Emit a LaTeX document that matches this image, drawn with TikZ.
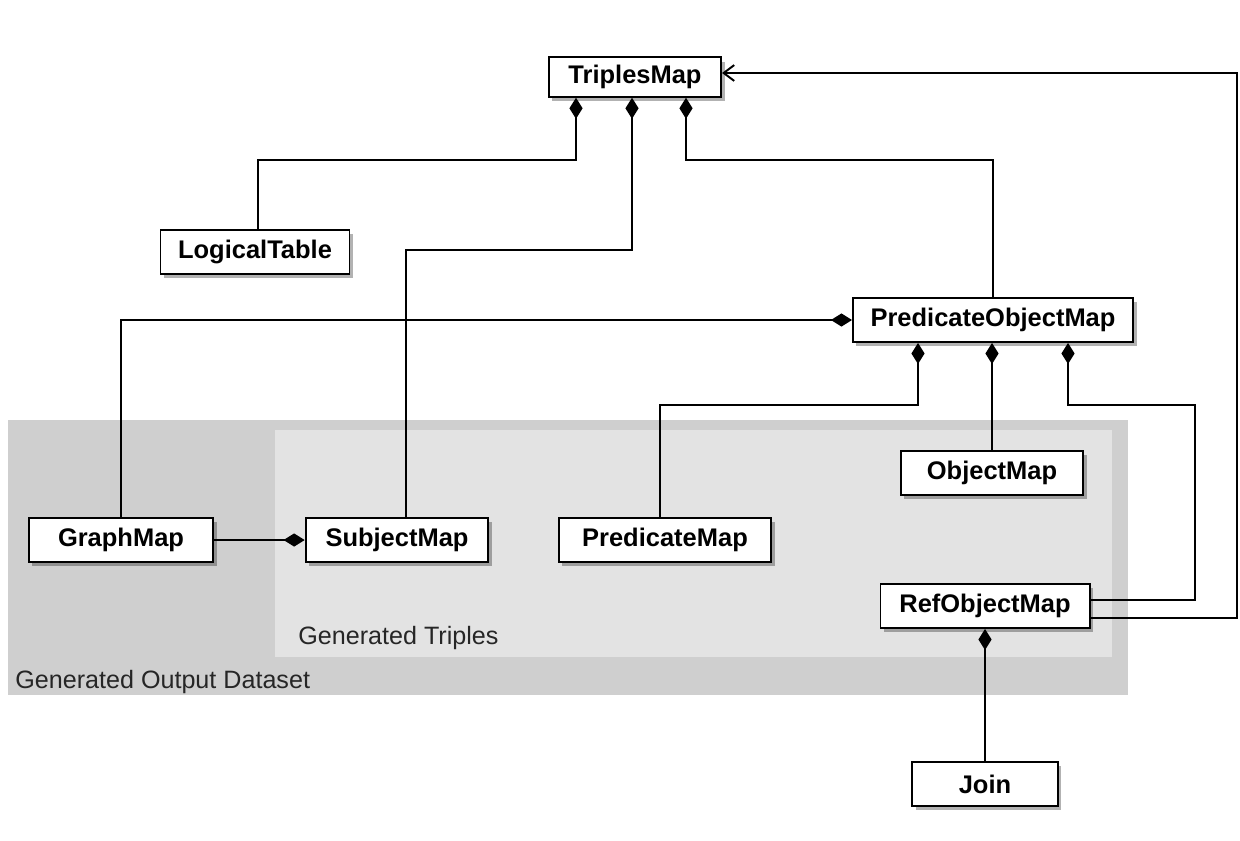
\documentclass[tikz,border=0pt]{standalone}
\usepackage{fontspec}
\setmainfont{Liberation Sans}
\usepackage{tikz}
\usetikzlibrary{calc,arrows.meta,shadows}

\begin{document}
\begin{tikzpicture}[x=0.02cm, y=-0.02cm,
    cls/.style={draw=black,
                line width=1.1pt,
                fill=white,
                font=\fontsize{14.5}{17}\selectfont\bfseries,
                minimum width=104pt,
                minimum height=25pt,
                inner xsep=10pt,
                drop shadow={shadow xshift=2pt, shadow yshift=-2.5pt, opacity=0.3, fill=black}
                },
    comp/.style={line width=1.1pt, arrows={Diamond[length=12pt,width=7.5pt]-}},
    refarrow/.style={line width=1.1pt, arrows={-Straight Barb[length=6pt,width=9pt]}},
    region/.style={font=\fontsize{14.3}{17}\selectfont, text=black!85, anchor=base west, inner sep=0pt}
    ]
  \useasboundingbox (0,0) rectangle (1240,840);

  % 背景の領域
  \fill[black!19] (8,420) rectangle (1128,695);
  \fill[black!11] (275,430) rectangle (1112,657);
  \node[region] (triples) at (298,644) {Generated Triples};
  \node[region] (dataset) at (15,688) {Generated Output Dataset};

  % クラスの箱
  \node[cls, minimum width=98pt, minimum height=22.5pt] (tm) at (635,77) {TriplesMap};
  \node[cls] (lt) at (255,252) {LogicalTable};
  \node[cls] (pom) at (993,320) {PredicateObjectMap};
  \node[cls] (om) at (992,473) {ObjectMap};
  \node[cls, minimum width=105pt] (gm) at (121,540) {GraphMap};
  \node[cls] (sm) at (397,540) {SubjectMap};
  \node[cls, minimum width=121pt] (pm) at (665,540) {PredicateMap};
  \node[cls, minimum width=119pt] (rom) at (985,606) {RefObjectMap};
  \node[cls, minimum width=83pt] (join) at (985,784) {Join};

  % TriplesMap からの合成
  \draw[comp] (tm.south -| 576,0) -- (576,160) -| (lt.north -| 258,0);
  \draw[comp] (tm.south -| 632,0) -- (632,250) -| (sm.north -| 406,0);
  \draw[comp] (tm.south -| 686,0) -- (686,160) -| (pom.north);

  % RefObjectMap から TriplesMap への参照
  \draw[refarrow] (rom.east |- 0,618) -- (1237,618) |- (tm.east |- 0,73);

  % PredicateObjectMap からの合成
  \draw[comp] (pom.west) -| (gm.north);
  \draw[comp] (pom.south -| 918,0) -- (918,405) -| (pm.north -| 660,0);
  \draw[comp] (pom.south -| 992,0) -- (om.north -| 992,0);
  \draw[comp] (pom.south -| 1068,0) -- (1068,405) -| (1195,600) -- (rom.east |- 0,600);

  % その他
  \draw[comp] (sm.west) -- (gm.east);
  \draw[comp] (rom.south) -- (join.north);
\end{tikzpicture}
\end{document}
